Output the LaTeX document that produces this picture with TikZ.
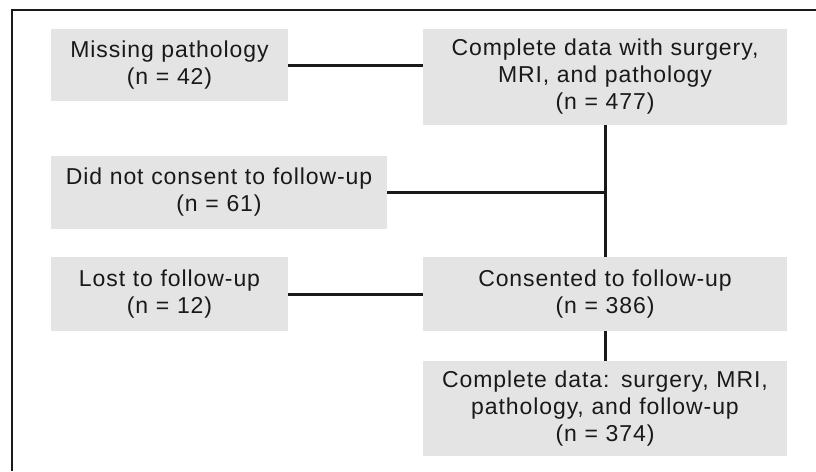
\documentclass[tikz,border=0pt]{standalone}
\usepackage{fontspec}
\setmainfont{Liberation Sans}[LetterSpace=4]
\definecolor{boxgray}{RGB}{228,228,228}
\definecolor{ink}{RGB}{25,25,25}
\begin{document}
\begin{tikzpicture}[x=1pt,y=-1pt,
  flowbox/.style={rectangle, fill=boxgray, inner sep=0pt, align=center,
    font=\fontsize{23}{27}\selectfont, text=ink},
  link/.style={line width=3pt, draw=ink},
  frameline/.style={line width=2pt, draw=ink}]
\useasboundingbox (0,0) rectangle (816,471);
\draw[frameline] (12,471) -- (12,10) -- (816,10);

\node[flowbox, minimum width=237pt, text width=237pt, minimum height=72pt] (miss) at (169.5,65)
  {Missing pathology\\(n = 42)};
\node[flowbox, minimum width=364pt, text width=364pt, minimum height=96pt] (top) at (605,77)
  {Complete data with surgery,\\MRI, and pathology\\(n = 477)};
\node[flowbox, minimum width=336pt, text width=336pt, minimum height=73pt] (dnc) at (219,192.5)
  {Did not consent to follow-up\\(n = 61)};
\node[flowbox, minimum width=237pt, text width=237pt, minimum height=74pt] (lost) at (169.5,294)
  {Lost to follow-up\\(n = 12)};
\node[flowbox, minimum width=364pt, text width=364pt, minimum height=74pt] (cons) at (605,294)
  {Consented to follow-up\\(n = 386)};
\node[flowbox, minimum width=364pt, text width=364pt, minimum height=95pt] (fin) at (605,408.5)
  {Complete data: surgery, MRI,\\pathology, and follow-up\\(n = 374)};

\draw[link] (miss.east) -- (miss.east -| top.west);
\draw[link] (top.south) -- (cons.north);
\coordinate (join) at (dnc.east -| top.south);
\draw[link] (dnc.east) -- (join);
\draw[link] (lost.east) -- (cons.west);
\draw[link] (cons.south) -- (fin.north);
\end{tikzpicture}
\end{document}
